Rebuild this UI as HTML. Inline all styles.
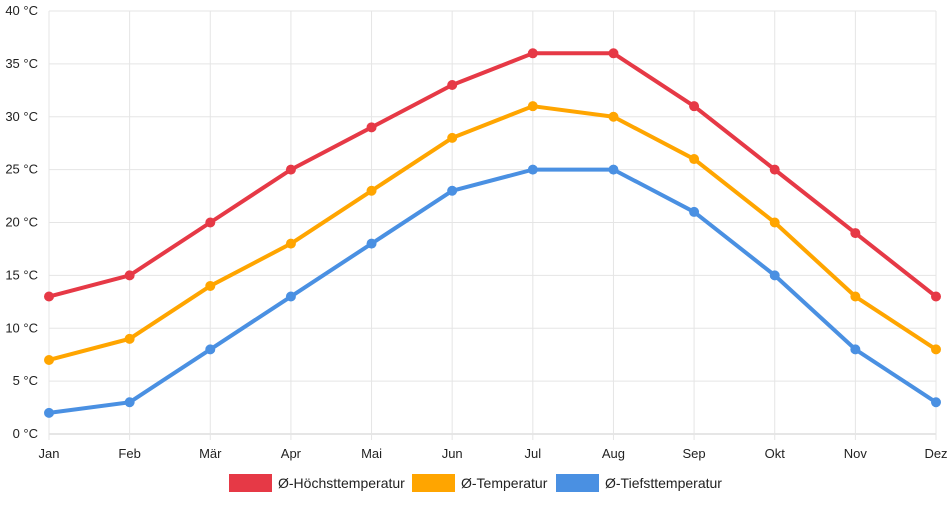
<!DOCTYPE html>
<html><head><meta charset="utf-8"><style>
body{margin:0;background:#fff;font-family:"Liberation Sans",sans-serif}
svg text{font-family:"Liberation Sans",sans-serif;font-size:13px;fill:#222}
</style></head><body>
<svg id="chart" width="952" height="500"></svg>
<script>
const categories=["Jan","Feb","Mär","Apr","Mai","Jun","Jul","Aug","Sep","Okt","Nov","Dez"];
const highValues=[13,15,20,25,29,33,36,36,31,25,19,13];
const meanValues=[7,9,14,18,23,28,31,30,26,20,13,8];
const lowValues=[2,3,8,13,18,23,25,25,21,15,8,3];
const yTicks=[0,5,10,15,20,25,30,35,40];
const seriesNames=["Ø-Höchsttemperatur","Ø-Temperatur","Ø-Tiefsttemperatur"];
const svg=document.getElementById('chart');
const NS="http://www.w3.org/2000/svg";
const x0=49,x1=936,y0=434,y1=11;
const xs=i=>x0+(x1-x0)*i/(categories.length-1);
const ys=v=>y0-(y0-y1)*v/40;
function mk(t,a,p){const e=document.createElementNS(NS,t);for(const k in a)e.setAttribute(k,a[k]);(p||svg).appendChild(e);return e;}
yTicks.forEach(v=>{
 const l=mk('line',{x1:x0,x2:x1,y1:ys(v),y2:ys(v),stroke:v===0?'#ccc':'#e5e5e5','stroke-width':1});
 
 
 const t=mk('text',{x:38,y:ys(v)+4,'text-anchor':'end'});t.textContent=v+' °C';
 
 
});
categories.forEach((c,i)=>{
 const l=mk('line',{x1:xs(i),x2:xs(i),y1:y1,y2:y0+6,stroke:'#e5e5e5','stroke-width':1});
 
 
 const t=mk('text',{x:xs(i),y:458,'text-anchor':'middle'});t.textContent=c;
 
 
});
const series=[[highValues,'#e63946'],[meanValues,'#ffa500'],[lowValues,'#4a90e2']];
series.forEach(([vals,col],si)=>{
 const p=mk('polyline',{points:vals.map((v,i)=>xs(i)+','+ys(v)).join(' '),fill:'none',stroke:col,'stroke-width':4,'stroke-linejoin':'round'});
 
 
 vals.forEach((v,i)=>{
  const c=mk('circle',{cx:xs(i),cy:ys(v),r:5,fill:col});
  
  
 });
});
const legX=[229,412,556];
seriesNames.forEach((n,i)=>{
 const r=mk('rect',{x:legX[i],y:474,width:43,height:18,fill:series[i][1]});
 
 
 const t=mk('text',{x:legX[i]+49,y:488});t.textContent=n;t.style.fontSize='14px';
 
 
});
</script>
</body></html>
